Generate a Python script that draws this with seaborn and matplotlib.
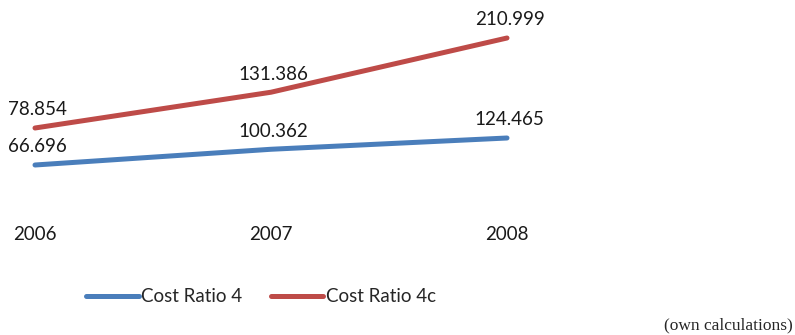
import matplotlib
matplotlib.use("Agg")
import matplotlib.pyplot as plt
import seaborn as sns
import pandas as pd

years = ["2006", "2007", "2008"]
cost_ratio_4 = [66.696, 100.362, 124.465]
cost_ratio_4c = [78.854, 131.386, 210.999]
series_names = ["Cost Ratio 4", "Cost Ratio 4c"]
source_note = "(own calculations)"

sns.set_style("white")
plt.rcParams['font.family'] = ['Lato', 'DejaVu Sans']

blue = '#4A7EBB'
red = '#BE4B48'

df = pd.DataFrame({'x': range(len(years)), 'r4': cost_ratio_4, 'r4c': cost_ratio_4c})

fig = plt.figure(figsize=(7.95, 3.35), dpi=100)
# axes spanning plot area (pixels converted to fractions)
ax = fig.add_axes([11.4 / 795, 1 - 220 / 335, 519.2 / 795, 200 / 335])
ax2 = ax.twinx()

sns.lineplot(data=df, x='x', y='r4c', ax=ax, color=red, linewidth=3.6,
             solid_capstyle='round', label=series_names[1], legend=False)
sns.lineplot(data=df, x='x', y='r4', ax=ax2, color=blue, linewidth=3.6,
             solid_capstyle='round', label=series_names[0], legend=False)

ax.set_xlim(-0.1, 2.1)
ax.set_ylim(-56.23, 237.43)
ax2.set_ylim(-50.98, 376.94)

for a, vals in [(ax, cost_ratio_4c), (ax2, cost_ratio_4)]:
    for i, v in enumerate(vals):
        a.annotate(f"{v:.3f}", (i, v), xytext=(2, 13), textcoords='offset points',
                   ha='center', va='center', fontsize=13.5, color='#1a1a1a')

ax.set_xticks(range(len(years)))
ax.set_xticklabels(years, fontsize=13.5, color='#1a1a1a')
ax.tick_params(axis='x', length=0, pad=4)
ax.set_yticks([])
ax2.set_yticks([])
ax.set_xlabel('')
ax.set_ylabel('')
ax2.set_ylabel('')
for a in (ax, ax2):
    for s in a.spines.values():
        s.set_visible(False)

h1 = ax2.get_lines()[0]
h2 = ax.get_lines()[0]
fig.legend([h1, h2], series_names, loc='center', bbox_to_anchor=(261 / 795, 1 - 297 / 335),
           ncol=2, frameon=False, fontsize=13.5, handlelength=2.8, handletextpad=0.15,
           columnspacing=1.5)

fig.text(793 / 795, 1 - 325 / 335, source_note, ha='right', va='center',
         fontsize=12.5, family=['Liberation Serif', 'DejaVu Serif'])

fig.savefig('out.png', dpi=100)
